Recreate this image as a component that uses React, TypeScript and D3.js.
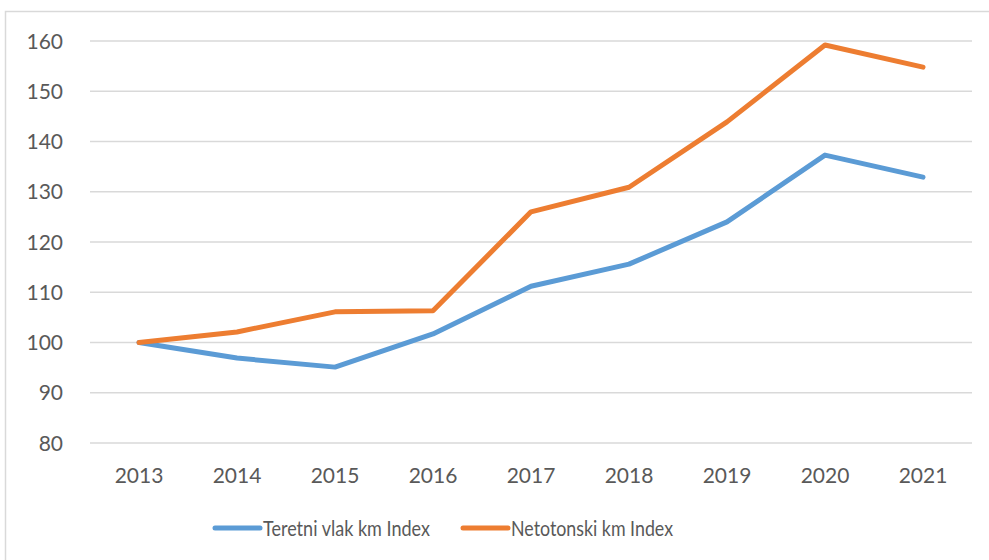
import React from "react";
import * as d3 from "d3";

const years = ["2013", "2014", "2015", "2016", "2017", "2018", "2019", "2020", "2021"];
const teretni = [100, 96.9, 95.1, 101.7, 111.2, 115.6, 124.0, 137.3, 132.9];
const netotonski = [100, 102.1, 106.1, 106.3, 126.0, 130.9, 143.9, 159.2, 154.8];
const yTicks = [80, 90, 100, 110, 120, 130, 140, 150, 160];
const seriesNames = ["Teretni vlak km Index", "Netotonski km Index"];
const colors = ["#5b9bd5", "#ed7d31"];

export default function App() {
  const W = 989, H = 560;
  const left = 90, right = 972, top = 41, bottom = 443;
  const x = d3.scaleBand().domain(years).range([left, right]);
  const y = d3.scaleLinear().domain([80, 160]).range([bottom, top]);
  const line = d3
    .line<number>()
    .x((_, i) => (x(years[i]) as number) + x.bandwidth() / 2)
    .y((d) => y(d));
  const font = "Lato, 'Open Sans', sans-serif";
  const series = [teretni, netotonski];
  const legendX = [215, 463];
  const legendW = [167, 162];
  return (
    <svg width={W} height={H} style={{ position: "absolute", left: 0, top: 0 }}>
      <rect x={0} y={0} width={W} height={H} fill="#fff" />
      <rect x={5.5} y={11.5} width={W + 10} height={H + 10} fill="none" stroke="#d9d9d9" strokeWidth={1.5} />
      {yTicks.map((t) => (
        <g key={t}>
          <line x1={left} x2={right} y1={y(t)} y2={y(t)} stroke="#d9d9d9" strokeWidth={1.5} />
          <text x={63} y={y(t)} dy="0.36em" textAnchor="end" fontFamily={font} fontSize={21} fill="#595959">
            {t}
          </text>
        </g>
      ))}
      {years.map((yr) => (
        <text key={yr} x={(x(yr) as number) + x.bandwidth() / 2} y={483} textAnchor="middle" fontFamily={font} fontSize={21} fill="#595959">
          {yr}
        </text>
      ))}
      {series.map((s, i) => (
        <path key={i} d={line(s) || ""} fill="none" stroke={colors[i]} strokeWidth={5} strokeLinejoin="round" strokeLinecap="round" />
      ))}
      {seriesNames.map((n, i) => (
        <g key={n}>
          <line x1={legendX[i]} x2={legendX[i] + 45} y1={528} y2={528} stroke={colors[i]} strokeWidth={5} strokeLinecap="round" />
          <text x={legendX[i] + 48} y={536} fontFamily={font} fontSize={21} fill="#595959" textLength={legendW[i]} lengthAdjust="spacingAndGlyphs">
            {n}
          </text>
        </g>
      ))}
    </svg>
  );
}
